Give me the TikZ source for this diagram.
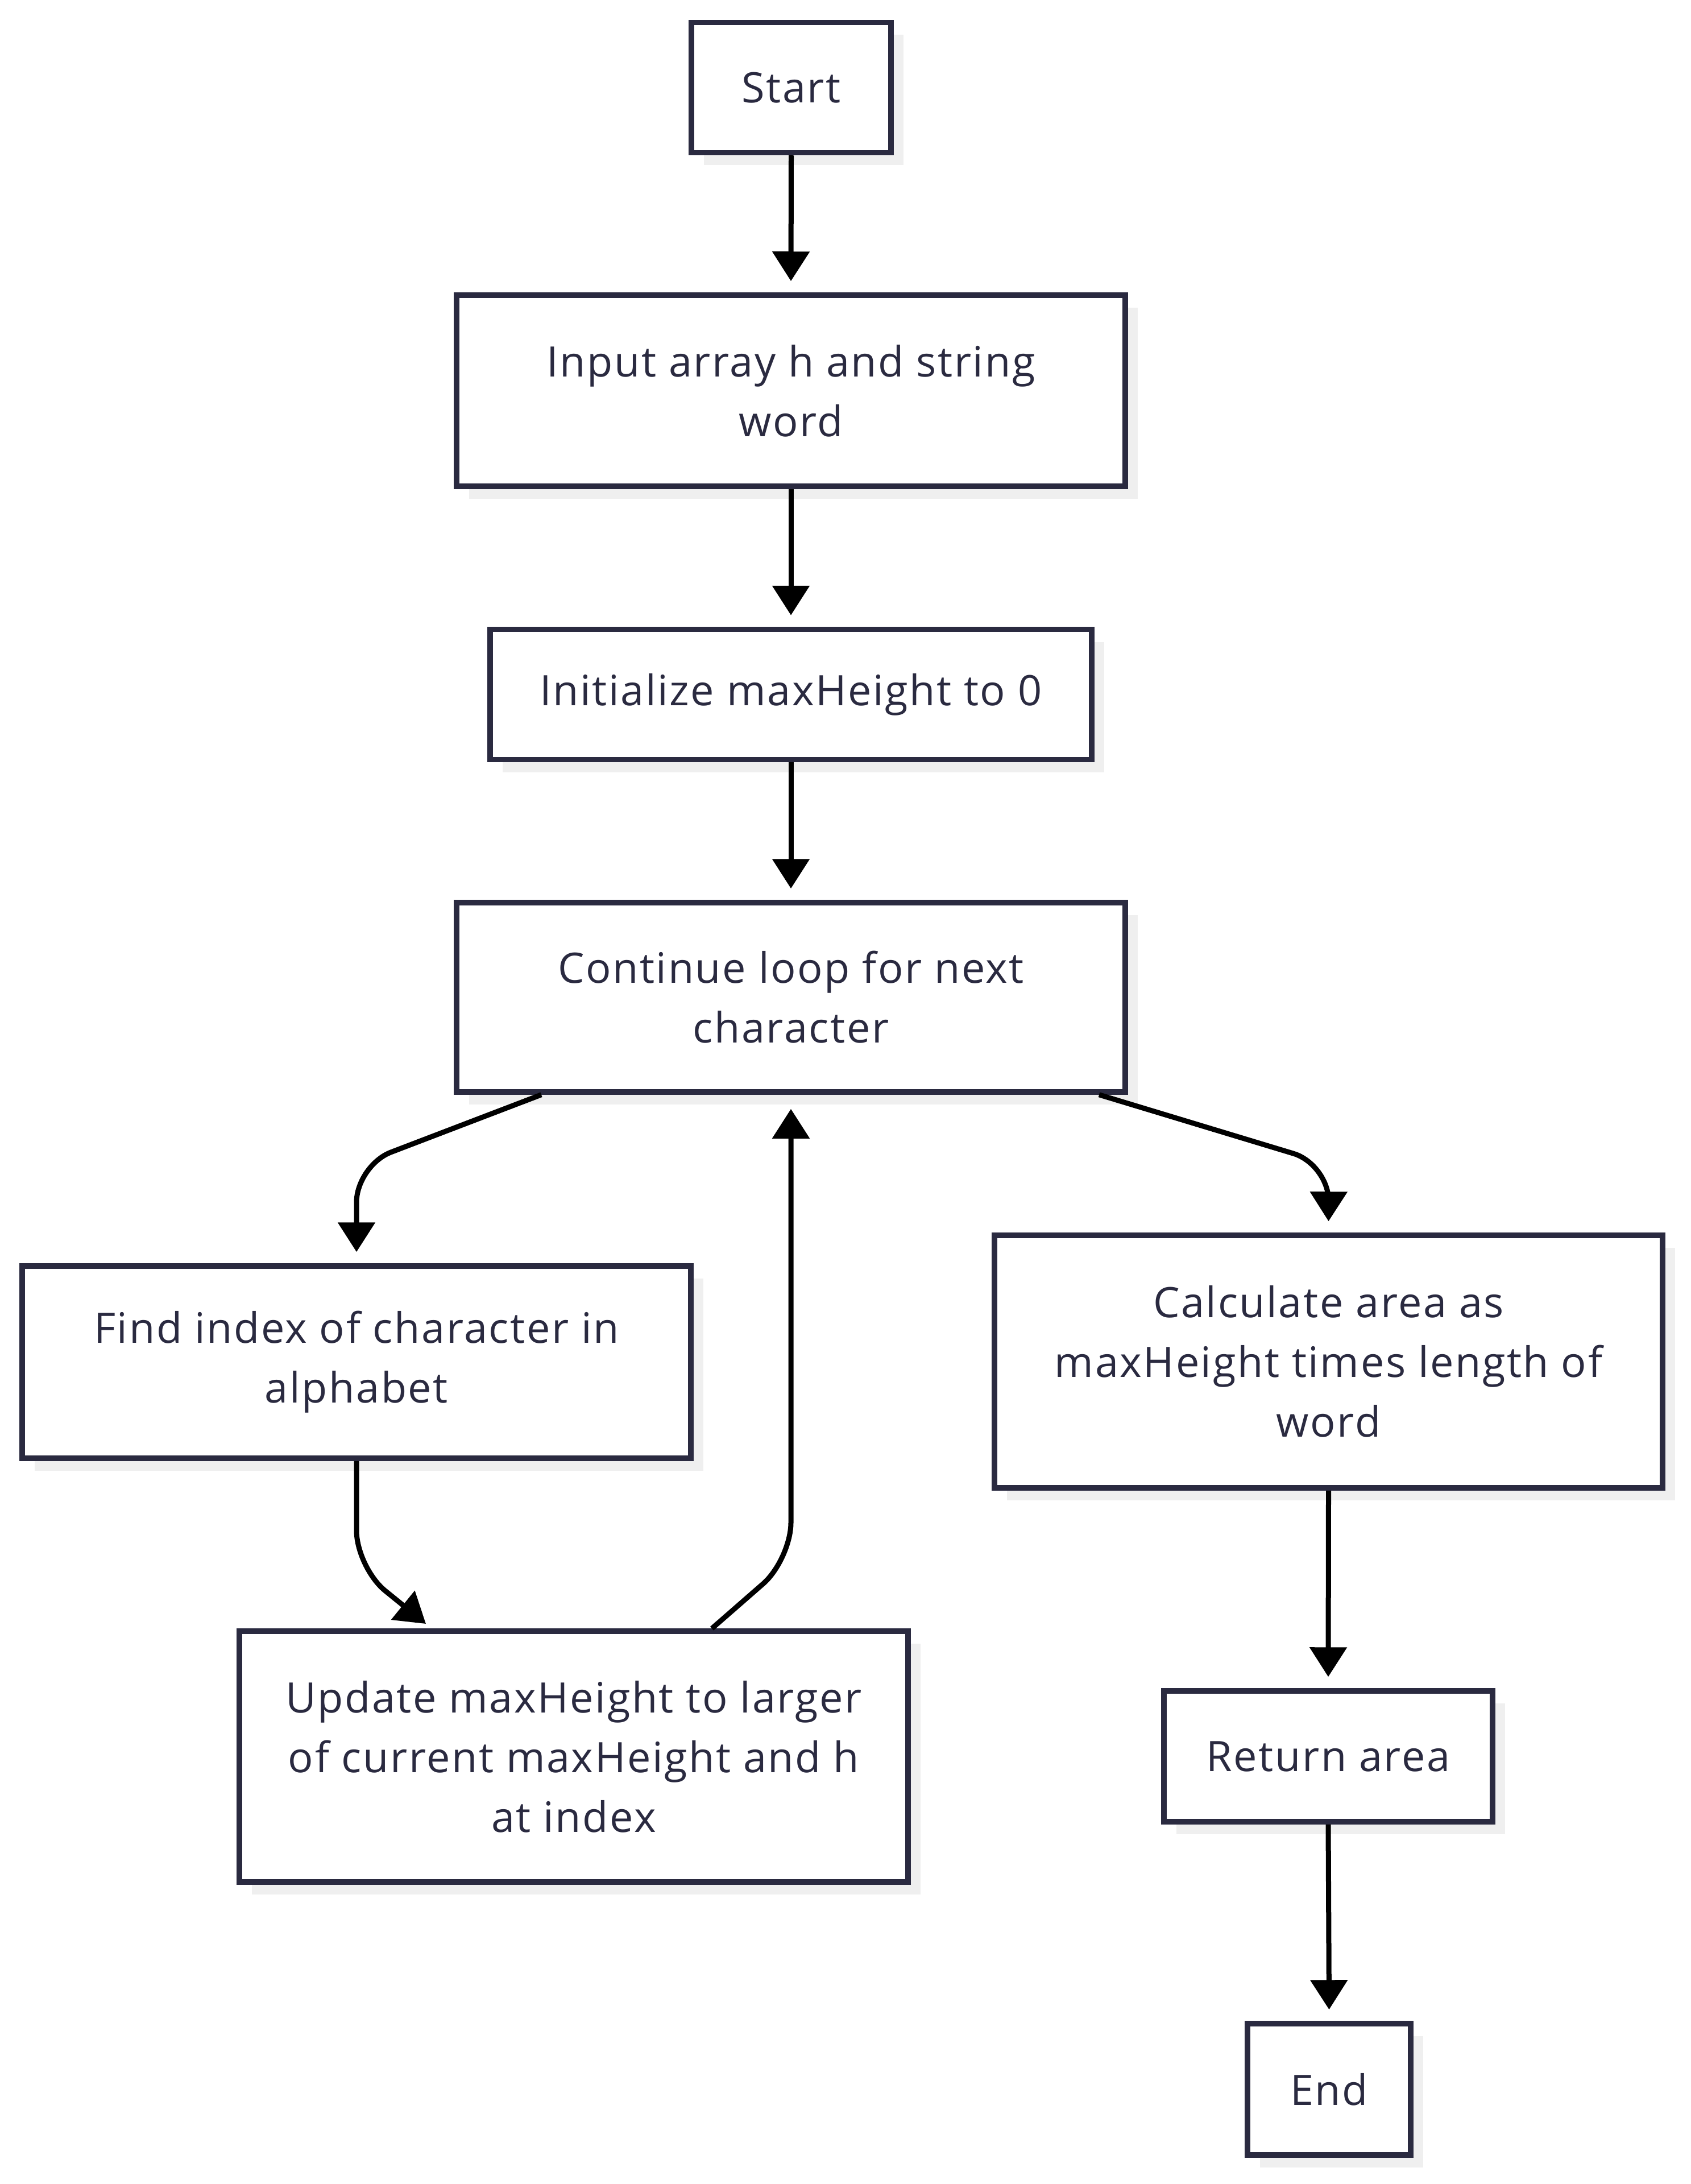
\documentclass[tikz,border=0pt]{standalone}
\usepackage{fontspec}
\setmainfont[LetterSpace=3.5]{Open Sans}
\usetikzlibrary{positioning, calc, arrows.meta, shadows}

\definecolor{boxline}{HTML}{2A2A40}
\definecolor{shade}{HTML}{EFEFEF}

\begin{document}
\begin{tikzpicture}[
    box/.style={draw=boxline, line width=0.95mm, fill=white, text=boxline,
        align=center, inner sep=0pt, minimum width=11.76cm,
        font=\fontsize{21}{29.9}\selectfont,
        general shadow={fill=shade, shadow xshift=0.22cm, shadow yshift=-0.22cm}},
    flow/.style={line width=0.9mm, -{Triangle[length=5.2mm, width=6.4mm]}},
    bentflow/.style={flow, rounded corners=0.65cm}
]
    \useasboundingbox (0,0) rectangle (29.73,-38.40);

    % main column
    \node[box, minimum width=3.51cm, minimum height=2.29cm] (start) at (13.915,-1.54) {Start};
    \node[box, minimum height=3.36cm] (input) at (13.91,-6.87) {Input array h and string\\word};
    \node[box, minimum width=10.58cm, minimum height=2.29cm] (init) at (13.91,-12.21) {Initialize maxHeight to 0};
    \node[box, minimum height=3.33cm] (loop) at (13.91,-17.535) {Continue loop for next\\character};

    % loop body (left)
    \node[box, minimum height=3.38cm] (findidx) at (6.27,-23.95) {Find index of character in\\alphabet};
    \node[box, minimum height=4.41cm] (update) at (10.09,-30.885) {Update maxHeight to larger\\of current maxHeight and h\\at index};

    % exit branch (right)
    \node[box, minimum width=11.75cm, minimum height=4.44cm] (calc) at (23.365,-23.94) {Calculate area as\\maxHeight times length of\\word};
    \node[box, minimum width=5.78cm, minimum height=2.30cm] (ret) at (23.36,-30.88) {Return area};
    \node[box, minimum width=2.87cm, minimum height=2.31cm] (finish) at (23.375,-36.735) {End};

    % bend points of the slanted connectors
    \coordinate (bendA) at (6.27,-20.49);
    \coordinate (bendB) at (6.27,-27.56);
    \coordinate (tipB)  at (7.49,-28.55);
    \coordinate (bendC) at (13.91,-27.42);
    \coordinate (bendD) at (23.37,-20.47);

    % straight connectors
    \draw[flow] (start.south) -- ([yshift=2mm]input.north);
    \draw[flow] (input.south) -- ([yshift=2mm]init.north);
    \draw[flow] (init.south) -- ([yshift=2mm]loop.north);
    \draw[flow] (calc.south) -- ([yshift=2mm]ret.north);
    \draw[flow] (ret.south) -- ([yshift=2mm]finish.north);

    % loop connectors
    \draw[bentflow] ([xshift=-4.39cm]loop.south) -- (bendA) -- ([yshift=2mm]findidx.north);
    \draw[bentflow] (findidx.south) -- (bendB) -- (tipB);
    \draw[bentflow] ([xshift=2.43cm]update.north) -- (bendC) -- ([yshift=-2.5mm]loop.south);
    \draw[bentflow] ([xshift=5.42cm]loop.south) -- (bendD) -- ([yshift=2mm]calc.north);
\end{tikzpicture}
\end{document}
